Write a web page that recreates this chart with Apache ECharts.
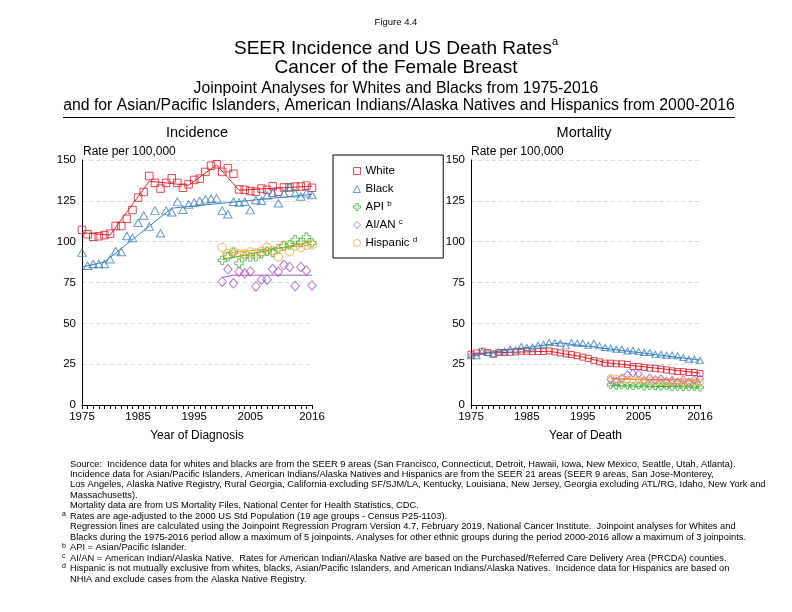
<!DOCTYPE html>
<html>
<head>
<meta charset="utf-8">
<script src="https://cdn.jsdelivr.net/npm/echarts@6/dist/echarts.min.js"></script>
<style>
html,body{margin:0;padding:0;background:#fff;}
#c{width:792px;height:612px;}
</style>
</head>
<body>
<div id="c"></div>
<script>
// ---------- data ----------
const years = [1975,1976,1977,1978,1979,1980,1981,1982,1983,1984,1985,1986,1987,1988,1989,1990,1991,1992,1993,1994,1995,1996,1997,1998,1999,2000,2001,2002,2003,2004,2005,2006,2007,2008,2009,2010,2011,2012,2013,2014,2015,2016];
const years2000 = [2000,2001,2002,2003,2004,2005,2006,2007,2008,2009,2010,2011,2012,2013,2014,2015,2016];
const xTickLabels = [1975,1985,1995,2005,2016];
const yTicks = [0,25,50,75,100,125,150];

// Incidence (observed)
const whiteInc = [107.2,104.5,103,103.3,104,104.9,109.6,109.6,114,119.4,127,130.4,140.2,136,132.5,136,138.8,136,133,135.1,137.8,138.6,142.7,146.5,147.4,142.7,145,141.6,132,131.7,131,130.6,132.5,131.7,134,130.6,133.2,133.2,133.7,133.7,134.3,133];
const blackInc = [93.3,85.3,86.3,86.3,86.3,89.2,94.2,93.7,103.5,102.3,111.6,116,109.2,119,105.1,119,118,124.5,119.5,122.8,123.9,124.9,125.9,126.3,126.5,119,116.8,124.4,124,124.4,119.3,125.5,125,128.4,129.9,123.5,129.4,133.5,129.6,127.6,129.6,128.6];
const apiInc = [88.6,90.8,93.4,86.7,91,90.6,90.8,92.7,94.1,93.4,95.6,97.4,98,101.2,99.5,102.8,99.3];
const aianInc = [75.5,83.1,74.5,81.6,80.6,81.8,72.6,76.7,76.7,83.2,81.6,85.7,84.5,72.9,84.5,82.2,73.2];
const hispInc = [96.5,92.5,94,92.5,92.7,93.7,93,94,96.5,94.5,90.6,97.7,93.9,97.4,96.5,97.8,98];

// Incidence joinpoint trend (joinpoint years and fitted values)
const whiteIncTrendYears = [1975,1980,1987,1994,1999,2003,2016];
const whiteIncTrendVals  = [105.5,104,137,134.5,147,131.5,134];
const blackIncTrendYears = [1975,1979,1991,2016];
const blackIncTrendVals  = [84.5,87.5,120.5,129];
const apiIncTrendYears = [2000,2016];
const apiIncTrendVals  = [89,100];
const aianIncTrendYears = [2000,2002,2016];
const aianIncTrendVals  = [78,79.5,79.5];
const hispIncTrendYears = [2000,2016];
const hispIncTrendVals  = [92.8,98];

// Mortality (observed)
const whiteMort = [31.1,31.9,32.9,32.1,31.3,32.1,32.1,32.3,32.5,32.9,32.9,32.7,32.7,32.7,33.1,32.5,31.9,31.3,30.9,30.1,29.3,28.5,27.3,26.4,25.6,25.6,25.2,25.2,24.8,23.6,23.6,23,22.6,22.4,22,21.5,20.9,20.5,20.4,19.9,19.9,19.3];
const blackMort = [30.1,30.1,32.7,32.1,31.1,32.7,33.1,34.1,33.7,35.8,35.2,35.5,36.6,37.2,38.2,38.2,37.8,36.2,38.2,37.8,37.8,36.6,37.8,36.2,35.2,34.9,34.1,34.1,33.1,33.5,32.7,32.1,32.1,31.1,31.1,30.5,30.6,30.1,29.1,28,28.1,27.4];
const apiMort = [12.3,11.8,12.1,11.8,11.6,12,11.3,11.6,11.3,11.2,11.5,11,11.2,11,10.9,11.2,10.7];
const aianMort = [15.5,14.5,16.5,18.5,19.5,19,15,16.5,15.5,16,14.5,15,14,15.5,14,15.5,16];
const hispMort = [16.5,16,15.8,15.5,15.4,15.2,15,14.8,14.7,14.5,14.4,14.3,14.2,14.1,14,14,13.9];

// Mortality joinpoint trend
const whiteMortTrendYears = [1975,1989,1995,1999,2016];
const whiteMortTrendVals  = [31.6,32.9,29.5,26,19.6];
const blackMortTrendYears = [1975,1991,2016];
const blackMortTrendVals  = [30.5,38,27.5];
const apiMortTrendYears = [2000,2016];
const apiMortTrendVals  = [11.9,10.9];
const aianMortTrendYears = [2000,2016];
const aianMortTrendVals  = [16,15.2];
const hispMortTrendYears = [2000,2016];
const hispMortTrendVals  = [16.3,14];

// ---------- styles ----------
const C = {
  White: '#d9222a',
  Black: '#3d7fbf',
  API: '#45b33f',
  AIAN: '#a35cc4',
  Hisp: '#f5a030'
};
const crossPath = 'path://M3,0 H6 V3 H9 V6 H6 V9 H3 V6 H0 V3 H3 Z';
const SYM = {White:'rect', Black:'triangle', API:crossPath, AIAN:'diamond', Hisp:'circle'};
const SIZE_INC = {White:7.5, Black:[8.5,7.5], API:8.5, AIAN:[8.5,9.5], Hisp:8.5};
const SIZE_MORT = {White:6, Black:[7,6], API:7, AIAN:[7,8], Hisp:7};
const NAMES = {White:'White', Black:'Black', API:'API', AIAN:'AI/AN', Hisp:'Hispanic'};

function pts(xs, ys){ return xs.map((x,i)=>[x, ys[i]]); }

function scatter(key, xs, ys, idx){
  return {
    type:'scatter', name: NAMES[key], xAxisIndex: idx, yAxisIndex: idx,
    symbol: SYM[key],
    symbolSize: idx === 0 ? SIZE_INC[key] : SIZE_MORT[key],
    itemStyle:{color:'rgba(0,0,0,0)', borderColor:C[key], borderWidth:1},
    data: pts(xs, ys), z:3, silent:true
  };
}
function trend(key, xs, ys, idx){
  return {
    type:'line', name: NAMES[key]+' trend', xAxisIndex: idx, yAxisIndex: idx,
    showSymbol:false, symbol:'none', lineStyle:{color:C[key], width:1},
    data: pts(xs, ys), z:2, silent:true
  };
}

const FF = 'Liberation Sans, Arial, sans-serif';
const NF = '"Liberation Sans Narrow", "Liberation Sans", sans-serif';

function xAxis(idx, name){
  return {
    type:'value', gridIndex: idx, min:1975, max:2016, interval:1,
    axisLine:{show:true, onZero:false, lineStyle:{color:'#000', width:1}},
    axisTick:{show:true, length:4, lineStyle:{color:'#000'}},
    axisLabel:{color:'#000', fontSize:11.5, margin:6, fontFamily:FF,
      formatter:(v)=> xTickLabels.indexOf(v) >= 0 ? String(v) : ''},
    splitLine:{show:false},
    name: name, nameLocation:'middle', nameGap:25,
    nameTextStyle:{color:'#000', fontSize:12, fontFamily:FF}
  };
}
function yAxis(idx){
  return {
    type:'value', gridIndex: idx, min:yTicks[0], max:yTicks[yTicks.length-1], interval:25,
    axisLine:{show:true, lineStyle:{color:'#000', width:1}},
    axisTick:{show:false},
    axisLabel:{color:'#000', fontSize:11.5, margin:6, fontFamily:FF},
    splitLine:{show:true, lineStyle:{color:'#dcdcdc', type:[4,3], width:1}}
  };
}

const series = [
  trend('White', whiteIncTrendYears, whiteIncTrendVals, 0),
  trend('Black', blackIncTrendYears, blackIncTrendVals, 0),
  trend('API', apiIncTrendYears, apiIncTrendVals, 0),
  trend('AIAN', aianIncTrendYears, aianIncTrendVals, 0),
  trend('Hisp', hispIncTrendYears, hispIncTrendVals, 0),
  scatter('White', years, whiteInc, 0),
  scatter('Black', years, blackInc, 0),
  scatter('API', years2000, apiInc, 0),
  scatter('AIAN', years2000, aianInc, 0),
  scatter('Hisp', years2000, hispInc, 0),
  trend('White', whiteMortTrendYears, whiteMortTrendVals, 1),
  trend('Black', blackMortTrendYears, blackMortTrendVals, 1),
  trend('API', apiMortTrendYears, apiMortTrendVals, 1),
  trend('AIAN', aianMortTrendYears, aianMortTrendVals, 1),
  trend('Hisp', hispMortTrendYears, hispMortTrendVals, 1),
  scatter('White', years, whiteMort, 1),
  scatter('Black', years, blackMort, 1),
  scatter('API', years2000, apiMort, 1),
  scatter('AIAN', years2000, aianMort, 1),
  scatter('Hisp', years2000, hispMort, 1)
];

function txt(x, y, text, size, align, family, rich){
  const s = {text:text, x:0, y:0, fill:'#000', font: size+'px '+(family||FF),
    textAlign: align||'center', textVerticalAlign:'middle', align: align||'center', verticalAlign:'middle'};
  if (rich) s.rich = rich;
  return {type:'text', x:x, y:y, style:s, silent:true};
}

const footLines = [
  ['', 'Source:  Incidence data for whites and blacks are from the SEER 9 areas (San Francisco, Connecticut, Detroit, Hawaii, Iowa, New Mexico, Seattle, Utah, Atlanta).'],
  ['', 'Incidence data for Asian/Pacific Islanders, American Indians/Alaska Natives and Hispanics are from the SEER 21 areas (SEER 9 areas, San Jose-Monterey,'],
  ['', 'Los Angeles, Alaska Native Registry, Rural Georgia, California excluding SF/SJM/LA, Kentucky, Louisiana, New Jersey, Georgia excluding ATL/RG, Idaho, New York and'],
  ['', 'Massachusetts).'],
  ['', 'Mortality data are from US Mortality Files, National Center for Health Statistics, CDC.'],
  ['a', 'Rates are age-adjusted to the 2000 US Std Population (19 age groups - Census P25-1103).'],
  ['', 'Regression lines are calculated using the Joinpoint Regression Program Version 4.7, February 2019, National Cancer Institute.  Joinpoint analyses for Whites and'],
  ['', 'Blacks during the 1975-2016 period allow a maximum of 5 joinpoints. Analyses for other ethnic groups during the period 2000-2016 allow a maximum of 3 joinpoints.'],
  ['b', 'API = Asian/Pacific Islander.'],
  ['c', 'AI/AN = American Indian/Alaska Native.  Rates for American Indian/Alaska Native are based on the Purchased/Referred Care Delivery Area (PRCDA) counties.'],
  ['d', 'Hispanic is not mutually exclusive from whites, blacks, Asian/Pacific Islanders, and American Indians/Alaska Natives.  Incidence data for Hispanics are based on'],
  ['', 'NHIA and exclude cases from the Alaska Native Registry.']
];

const graphics = [
  txt(396, 22, 'Figure 4.4', 9.5, 'center', NF),
  txt(396, 47, '{t|SEER Incidence and US Death Rates}{s|a}', 19, 'center', FF,
    {t:{fontSize:19, fontFamily:FF, lineHeight:22, verticalAlign:'bottom'}, s:{fontSize:11, fontFamily:FF, lineHeight:22, verticalAlign:'top', padding:[0,0,10,0]}}),
  txt(396, 68, 'Cancer of the Female Breast', 19, 'center'),
  txt(396, 89, 'Joinpoint Analyses for Whites and Blacks from 1975-2016', 15.8, 'center'),
  txt(399, 106, 'and for Asian/Pacific Islanders, American Indians/Alaska Natives and Hispanics from 2000-2016', 15.8, 'center'),
  {type:'line', shape:{x1:63, y1:117.5, x2:735, y2:117.5}, style:{stroke:'#000', lineWidth:1}, silent:true},
  txt(197, 133, 'Incidence', 14.5, 'center'),
  txt(584, 133, 'Mortality', 14.5, 'center'),
  txt(83, 152, 'Rate per 100,000', 12, 'left'),
  txt(471, 152, 'Rate per 100,000', 12, 'left')
];
footLines.forEach((l, i)=>{
  const y = 464 + i*10.45;
  if (l[0]) graphics.push(txt(62, y-2, l[0], 7, 'left', NF));
  graphics.push(txt(70, y, l[1], 9.3, 'left', NF));
});

const legendItems = [
  {key:'White', sup:''}, {key:'Black', sup:''}, {key:'API', sup:'b'}, {key:'AIAN', sup:'c'}, {key:'Hisp', sup:'d'}
];
const supMap = {}; legendItems.forEach(it=>{ supMap[NAMES[it.key]] = it.sup; });

const option = {
  animation:false,
  backgroundColor:'#fff',
  grid:[
    {left:82, top:160, width:230, height:245, containLabel:false},
    {left:471, top:160, width:229, height:245, containLabel:false}
  ],
  xAxis:[xAxis(0,'Year of Diagnosis'), xAxis(1,'Year of Death')],
  yAxis:[yAxis(0), yAxis(1)],
  legend:{
    show:true, orient:'vertical', left:333, top:155,
    borderColor:'#000', borderWidth:1, borderRadius:0,
    padding:[9,26,8,20], itemGap:4, itemWidth:7, itemHeight:7,
    selectedMode:false,
    textStyle:{color:'#000', fontSize:11.5, fontFamily:FF, lineHeight:14,
      rich:{s:{fontSize:8, fontFamily:FF, verticalAlign:'top', lineHeight:14, padding:[0,0,6,0]}}},
    formatter:(name)=> supMap[name] ? name+' {s|'+supMap[name]+'}' : name,
    data: legendItems.map(it=>({
      name: NAMES[it.key], icon: SYM[it.key],
      itemStyle:{color:'#fff', borderColor:C[it.key], borderWidth:1}
    }))
  },
  series: series,
  graphic: graphics
};

const chart = echarts.init(document.getElementById('c'), null, {renderer:'canvas'});
chart.setOption(option);
</script>
</body>
</html>
